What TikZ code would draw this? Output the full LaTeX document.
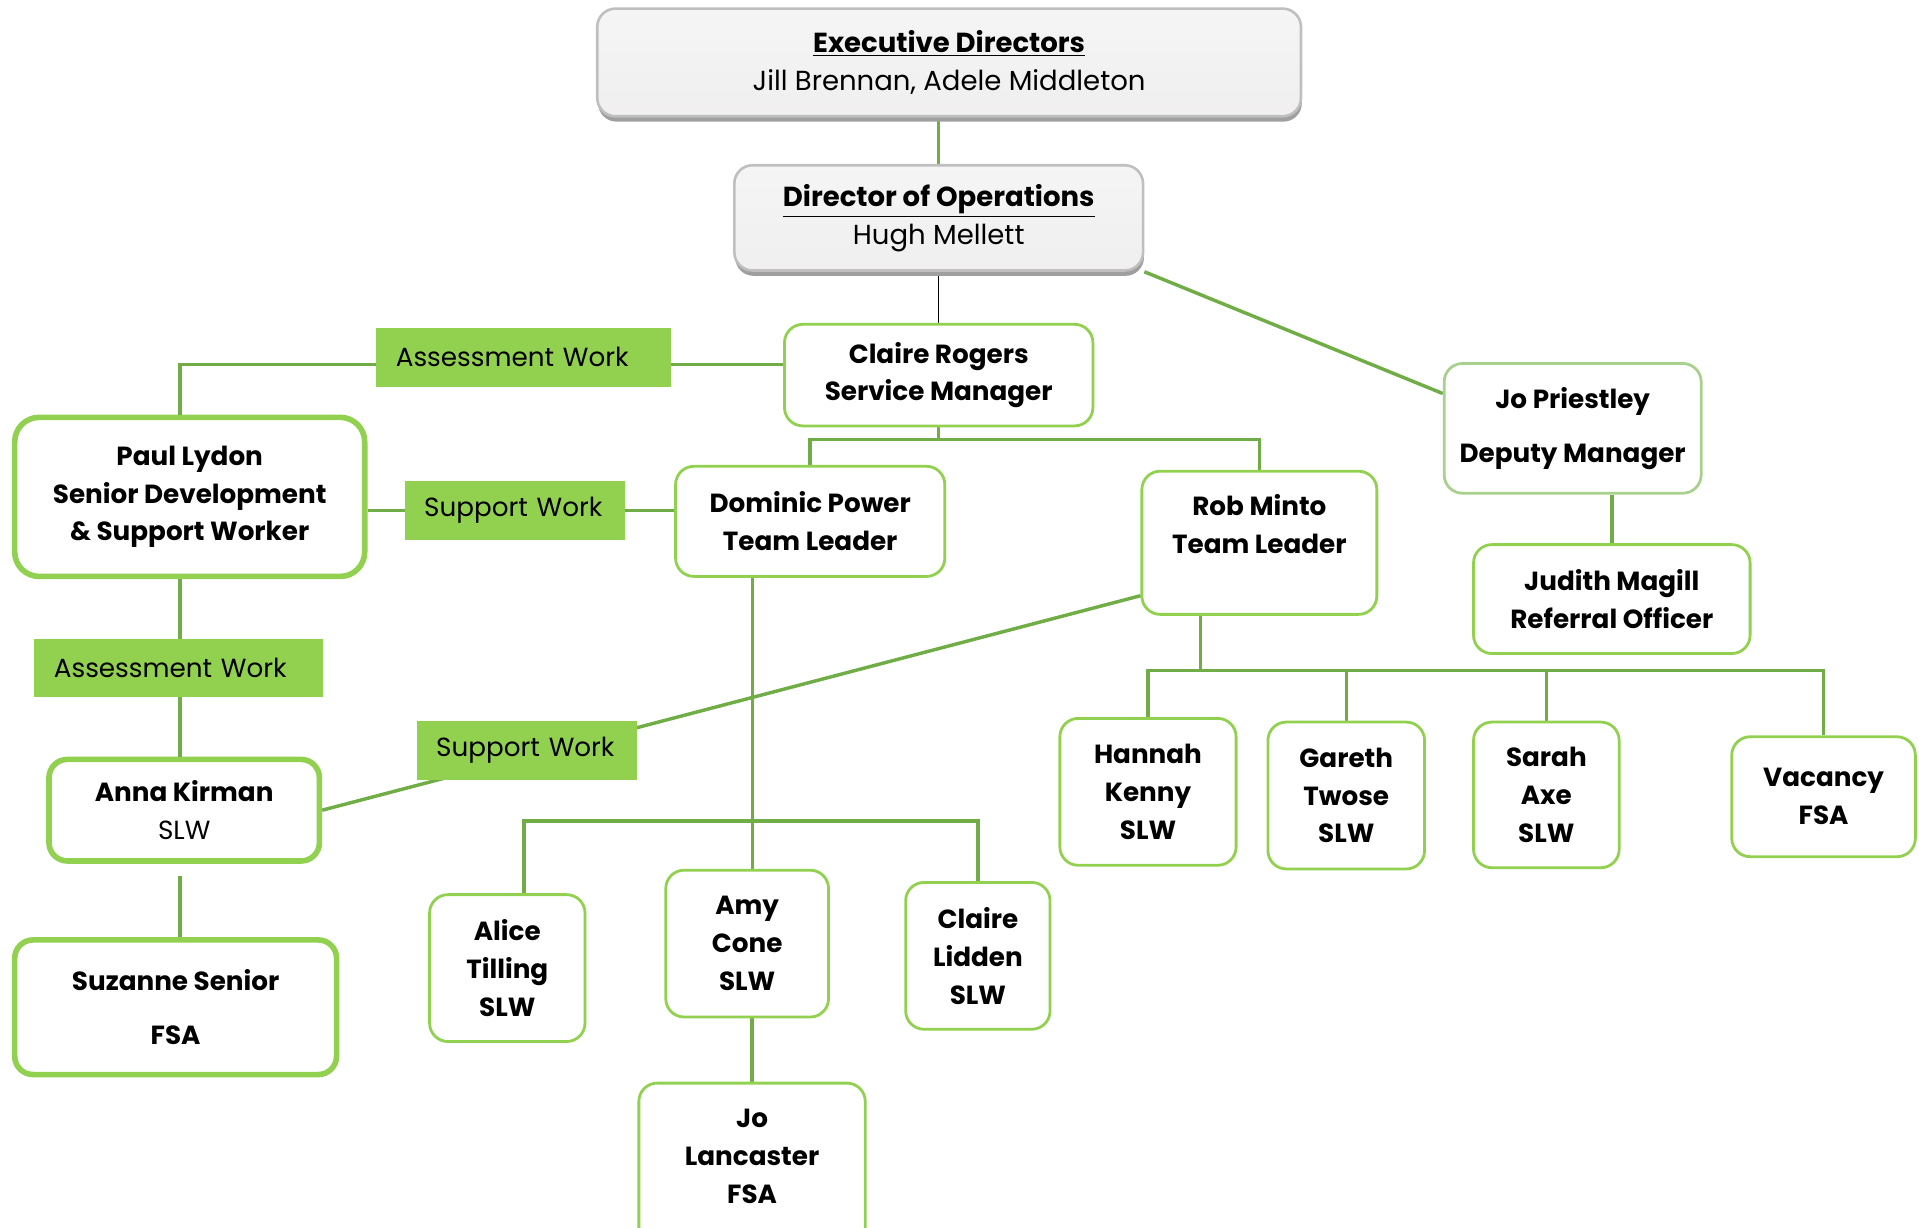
\documentclass[tikz,border=0pt]{standalone}
\usepackage{fontspec}
\setmainfont{Poppins}
\usepackage{tikz}
\usetikzlibrary{positioning, shadows, backgrounds}
\definecolor{linegreen}{HTML}{70AD47}
\definecolor{boxgreen}{HTML}{92D050}
\definecolor{palegreen}{HTML}{A9D18E}
\definecolor{headgray}{HTML}{BFBFBF}

\begin{document}
\begin{tikzpicture}[x=0.02cm, y=-0.02cm,
	txt/.style={font=\fontsize{12.2}{17.6}\selectfont},
	boxsize/.style 2 args={minimum width=#1*0.02cm, minimum height=#2*0.02cm},
	head/.style={font=\fontsize{12.8}{17.6}\selectfont, draw=headgray, line width=1.2pt, rounded corners=0.3cm, top color=gray!8, bottom color=red!5!gray!12, align=center, drop shadow={shadow xshift=0.4pt, shadow yshift=-2.5pt, fill=gray!75, opacity=1}},
	person/.style={font=\fontsize{12.2}{17.6}\selectfont\bfseries, draw=boxgreen, line width=1.3pt, rounded corners=0.3cm, fill=white, align=center},
	key/.style={person, line width=2.6pt, rounded corners=0.4cm},
	tag/.style={txt, fill=boxgreen, inner xsep=0.32cm, text width=#1, align=left, minimum height=0.96cm},
	link/.style={draw=linegreen, line width=1.6pt}]
	\useasboundingbox (0,0) rectangle (1568,1003);
	\node[head, boxsize={575}{88}]	(exec)		at (775.5,51)	{\textbf{\underline{Executive Directors}}\\Jill Brennan, Adele Middleton};
	\node[head, boxsize={334}{86}]	(dirops)	at (767,178)	{\textbf{\underline{Director of Operations}}\\Hugh Mellett};
	\node[person, boxsize={252}{83}]	(rogers)	at (767,306.5)	{Claire Rogers\\Service Manager};
	\node[person, draw=palegreen, boxsize={210}{106}]	(priestley)	at (1285,350)	{Jo Priestley\\[0.26cm]Deputy Manager};
	\node[person, boxsize={226}{89}]	(magill)	at (1317,489.5)	{Judith Magill\\Referral Officer};
	\node[key, boxsize={286}{130}]	(lydon)		at (155,406)	{Paul Lydon\\Senior Development\\\& Support Worker};
	\node[person, boxsize={220}{90}]	(power)		at (662,426)	{Dominic Power\\Team Leader};
	\node[person, boxsize={192}{117}]	(minto)		at (1029,443.5)	{Rob Minto\\Team Leader\\\mbox{}};
	\node[key, rounded corners=0.3cm, boxsize={221}{83}]	(kirman)	at (150.5,662)	{Anna Kirman\\\mdseries SLW};
	\node[key, rounded corners=0.3cm, boxsize={263}{110}]	(senior)	at (143.5,823)	{Suzanne Senior\\[0.26cm]FSA};
	\node[person, boxsize={127}{120}]	(tilling)	at (414.5,791)	{Alice\\Tilling\\SLW};
	\node[person, boxsize={133}{120}]	(cone)		at (610.5,771)	{Amy\\Cone\\SLW};
	\node[person, boxsize={118}{120}]	(lidden)	at (799,781)	{Claire\\Lidden\\SLW};
	\node[person, boxsize={185}{150}]	(lancaster)	at (614.5,960)	{Jo\\Lancaster\\FSA\\\mbox{}};
	\node[person, boxsize={144}{120}]	(kenny)		at (938,647)	{Hannah\\Kenny\\SLW};
	\node[person, boxsize={128}{120}]	(twose)		at (1100,650)	{Gareth\\Twose\\SLW};
	\node[person, boxsize={119}{119}]	(axe)		at (1263.5,649.5)	{Sarah\\Axe\\SLW};
	\node[person, boxsize={150}{98}]	(vacancy)	at (1490,651)	{Vacancy\\FSA};
	\coordinate	(left)	at (147,298);
	\coordinate	(bustwo)	at (981,548);
	\coordinate	(busthree)	at (615,671);
	\begin{scope}[on background layer]
		\draw[link] (dirops.north |- exec.south) -- (dirops.north);
		\draw[black, line width=0.6pt] (dirops.south) -- (rogers.north);
		\draw[link] (dirops.south east) -- (priestley.165);
		\draw[link] (priestley.south -| magill.north) -- (magill.north);
		\draw[link] (rogers.south) -- ++(0,10) coordinate (busone);
		\draw[link] (power.north) |- (busone) -| (minto.north);
		\draw[link] (bustwo |- minto.south) -- (bustwo);
		\draw[link] (kenny.north) |- (bustwo) -| (vacancy.north);
		\draw[link] (twose.north) -- (twose.north |- bustwo);
		\draw[link] (axe.north) -- (axe.north |- bustwo);
		\draw[link] (busthree |- power.south) -- (busthree |- cone.north);
		\draw[link] ([xshift=0.27cm]tilling.north) |- (busthree) -| (lidden.north);
		\draw[link] (lancaster.north |- cone.south) -- (lancaster.north);
		\draw[link] ([yshift=-0.2cm]left |- kirman.south) -- (left |- senior.north);
	\end{scope}
	\draw[link] (rogers.west |- left) -- node[tag={4.18cm}, pos=0.43, yshift=0.12cm] (assessone) {Assessment Work} (left) -- (left |- lydon.north);
	\draw[link] (lydon.east) ++(0,11) -- node[tag={2.96cm}, pos=0.48] (supportone) {Support Work} (power.west |- 0,417);
	\draw[link] (left |- lydon.south) -- node[tag={4.08cm}, xshift=-0.02cm] (assesstwo) {Assessment Work} (left |- kirman.north);
	\draw[link] (kirman.east) -- node[tag={2.96cm}, pos=0.25, yshift=0.1cm] (supporttwo) {Support Work} (minto.204);
\end{tikzpicture}
\end{document}
